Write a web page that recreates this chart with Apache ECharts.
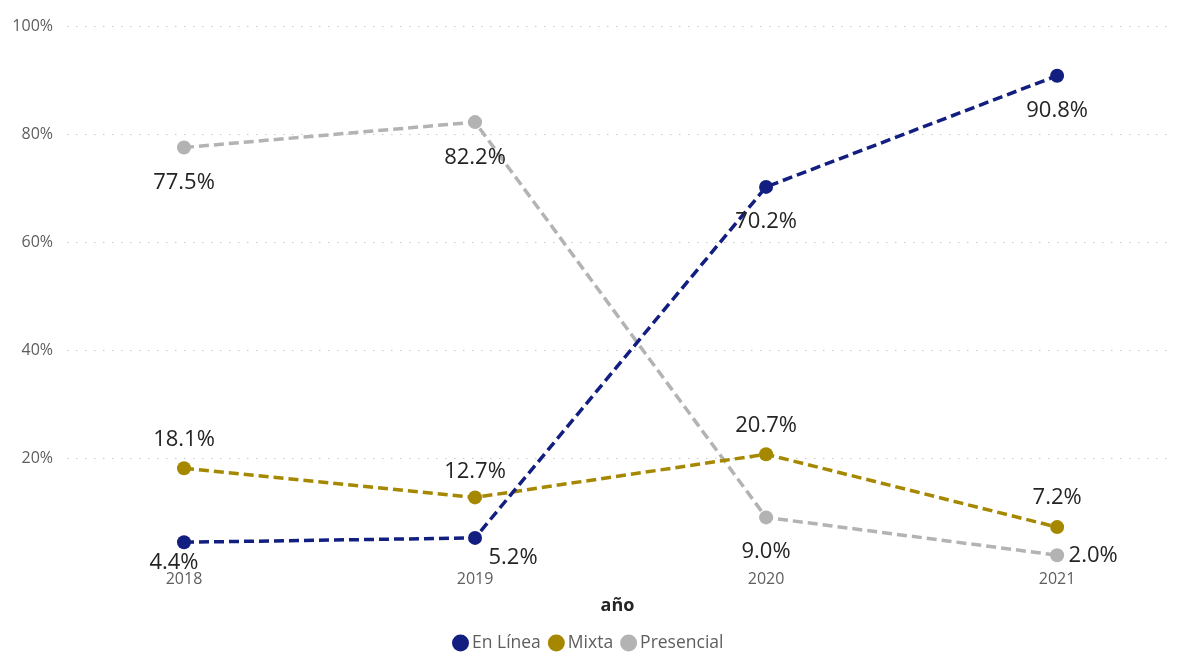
<!DOCTYPE html>
<html>
<head>
<meta charset="utf-8">
<script src="https://cdn.jsdelivr.net/npm/echarts@6/dist/echarts.min.js"></script>
<style>
html,body{margin:0;padding:0;background:#fff;}
#main{width:1192px;height:667px;}
</style>
</head>
<body>
<div id="main"></div>
<script>
// ---- data ----
const years = [2018, 2019, 2020, 2021];
const seriesNames = ['En Línea', 'Mixta', 'Presencial'];
const enLinea = [4.4, 5.2, 70.2, 90.8];
const mixta = [18.1, 12.7, 20.7, 7.2];
const presencial = [77.5, 82.2, 9.0, 2.0];
const yTicks = [0, 20, 40, 60, 80, 100];

// ---- styling ----
const colors = { 'En Línea': '#121F80', 'Mixta': '#A68800', 'Presencial': '#B3B3B3' };
const FONT = '"Open Sans", "Noto Sans", sans-serif';
// label placement (offset of label centre from the point)
const labelOffsets = {
  'En Línea': [[-10, 20], [38, 20], [0, 35], [0, 35]],
  'Mixta': [[0, -29], [0, -26], [0, -28], [0, -29]],
  'Presencial': [[0, 35], [0, 36], [0, 34], [36, 1]]
};

function makeSeries(name, values, z) {
  return {
    name: name,
    type: 'line',
    z: z,
    data: values.map((v, i) => ({
      value: [years[i], v],
      label: { offset: labelOffsets[name][i] }
    })),
    symbol: 'circle',
    symbolSize: 14,
    color: colors[name],
    itemStyle: { color: colors[name] },
    lineStyle: { color: colors[name], width: 3.5, type: [10, 5] },
    label: {
      show: true,
      position: 'inside',
      formatter: p => p.value[1].toFixed(1) + '%',
      color: '#252423',
      fontFamily: FONT,
      fontSize: 22
    },
    emphasis: { disabled: true },
    animation: false
  };
}

const chart = echarts.init(document.getElementById('main'));
chart.setOption({
  backgroundColor: '#fff',
  animation: false,
  grid: { left: 67, right: 24, top: 26, bottom: 101, containLabel: false },
  legend: {
    data: seriesNames,
    left: 447,
    top: 629,
    icon: 'circle',
    itemWidth: 17,
    itemHeight: 17,
    itemGap: 7,
    textStyle: { color: '#605E5C', fontFamily: FONT, fontSize: 17.5, padding: [0, 0, 0, -2] }
  },
  xAxis: {
    type: 'value',
    min: 2017.598,
    max: 2021.381,
    name: 'año',
    nameLocation: 'middle',
    nameGap: 31,
    nameTextStyle: { color: '#252423', fontFamily: FONT, fontSize: 18, fontWeight: 'bold' },
    axisLine: { show: false },
    axisTick: { show: false },
    splitLine: { show: false },
    axisLabel: {
      customValues: years,
      formatter: v => String(v),
      color: '#605E5C',
      fontFamily: FONT,
      fontSize: 16,
      margin: 5
    }
  },
  yAxis: {
    type: 'value',
    min: 0,
    max: 100,
    interval: 20,
    axisLine: { show: false },
    axisTick: { show: false },
    axisLabel: {
      customValues: yTicks.filter(v => v > 0),
      formatter: v => v + '%',
      color: '#605E5C',
      fontFamily: FONT,
      fontSize: 16,
      margin: 14
    },
    splitLine: {
      show: true,
      showMinLine: false,
      lineStyle: { color: '#C8C8C8', width: 1, type: [1.5, 7.5] }
    }
  },
  series: [
    makeSeries('Presencial', presencial, 2),
    makeSeries('Mixta', mixta, 3),
    makeSeries('En Línea', enLinea, 4)
  ]
});
</script>
</body>
</html>
